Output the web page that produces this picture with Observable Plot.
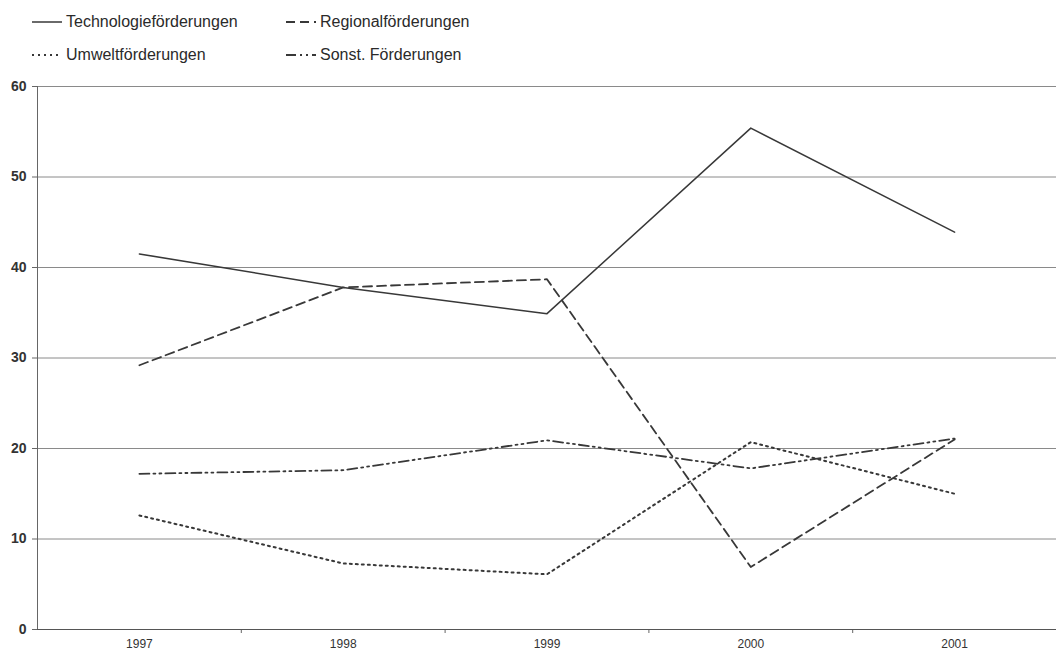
<!DOCTYPE html>
<html><head><meta charset="utf-8">
<script src="https://cdn.jsdelivr.net/npm/d3@7"></script>
<script src="https://cdn.jsdelivr.net/npm/@observablehq/plot@0.6"></script>
<style>
body{margin:0;background:#fff;font-family:"Liberation Sans",Arial,sans-serif;}
#legend{position:relative;height:70px;width:1056px;}
.item{position:absolute;height:20px;display:flex;align-items:center;font-size:16px;color:#2a2a2a;white-space:nowrap;}
.item svg{margin-right:4px;}
</style></head><body>
<div id="legend"></div><div id="chart"></div>
<script>
const years = [1997, 1998, 1999, 2000, 2001];
const technologie = [41.5, 37.8, 34.9, 55.4, 43.9];
const regional = [29.2, 37.8, 38.7, 6.9, 21.0];
const umwelt = [12.6, 7.3, 6.1, 20.7, 15.0];
const sonstige = [17.2, 17.6, 20.9, 17.8, 21.1];
const seriesNames = ["Technologieförderungen", "Regionalförderungen", "Umweltförderungen", "Sonst. Förderungen"];
const yTicks = [0, 10, 20, 30, 40, 50, 60];
const categoryBounds = [1997.5, 1998.5, 1999.5, 2000.5];

const dashes = ["none", "9,5", "2,4", "10,4,2,4,2,4"];
const widths = [1.5, 1.8, 2, 1.8];
const valuesBySeries = [technologie, regional, umwelt, sonstige];
const lineColor = "#383838";

const rows = [];
seriesNames.forEach((s, i) => years.forEach((y, j) => rows.push({series: s, year: y, value: valuesBySeries[i][j]})));

// legend
const legendPos = [[32, 12], [286, 12], [32, 45], [286, 45]];
const legend = document.getElementById("legend");
seriesNames.forEach((s, i) => {
  const d = document.createElement("div");
  d.className = "item";
  d.style.left = legendPos[i][0] + "px";
  d.style.top = legendPos[i][1] + "px";
  d.innerHTML = `<svg width="30" height="6"><line x1="0" x2="30" y1="3" y2="3" stroke="${lineColor}" stroke-width="${widths[i]}" ${dashes[i] === "none" ? "" : `stroke-dasharray="${dashes[i]}"`}/></svg><span>${s}</span>`;
  legend.appendChild(d);
});

const chart = Plot.plot({
  width: 1056,
  height: 593,
  marginTop: 16,
  marginBottom: 34,
  marginLeft: 37,
  marginRight: 0,
  style: {fontFamily: "'Liberation Sans', Arial, sans-serif", background: "#fff"},
  x: {type: "linear", domain: [1996.5, 2001.5]},
  y: {domain: [0, 60]},
  marks: [
    Plot.gridY(yTicks, {stroke: "#8a8a8a", strokeOpacity: 1, strokeWidth: 1}),
    Plot.axisY(yTicks, {tickSize: 5, tickPadding: 6, fontSize: 14, fontWeight: "bold", fill: "#333", stroke: "#666", label: null, tickFormat: d => String(d)}),
    Plot.axisX(years, {tickSize: 0, tickPadding: 10, fontSize: 12, fill: "#333", label: null, tickFormat: d => String(d)}),
    Plot.axisX(categoryBounds, {tickSize: 4, stroke: "#666", tickFormat: () => "", label: null}),
    Plot.ruleX([1996.5], {stroke: "#666"}),
    Plot.ruleY([0], {stroke: "#555", strokeWidth: 1.2}),
    ...seriesNames.map((s, i) => Plot.line(rows.filter(r => r.series === s), {
      x: "year", y: "value", stroke: lineColor, strokeWidth: widths[i],
      strokeDasharray: dashes[i] === "none" ? null : dashes[i]
    }))
  ]
});
document.getElementById("chart").appendChild(chart);
</script>
</body></html>
